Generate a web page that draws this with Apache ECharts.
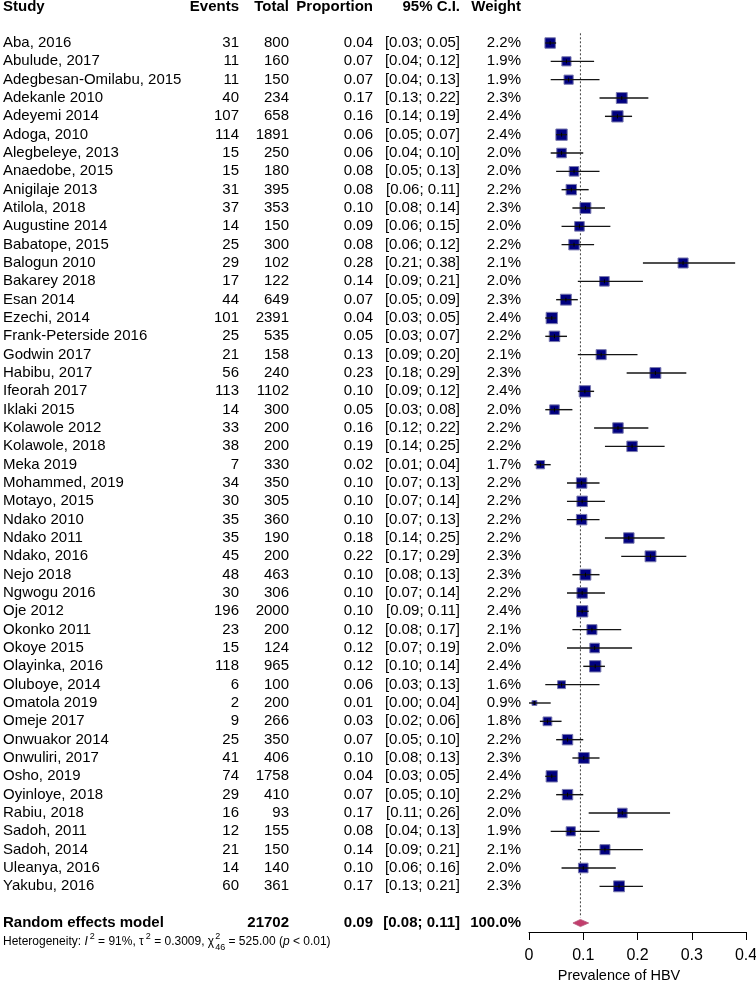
<!DOCTYPE html>
<html><head><meta charset="utf-8">
<script src="https://cdn.jsdelivr.net/npm/echarts@6/dist/echarts.min.js"></script>
<style>html,body{margin:0;padding:0;background:#fff}#c{width:756px;height:991px}</style>
</head><body><div id="c"></div>
<script>
const studies = ["Aba, 2016","Abulude, 2017","Adegbesan-Omilabu, 2015","Adekanle 2010","Adeyemi 2014","Adoga, 2010","Alegbeleye, 2013","Anaedobe, 2015","Anigilaje 2013","Atilola, 2018","Augustine 2014","Babatope, 2015","Balogun 2010","Bakarey 2018","Esan 2014","Ezechi, 2014","Frank-Peterside 2016","Godwin 2017","Habibu, 2017","Ifeorah 2017","Iklaki 2015","Kolawole 2012","Kolawole, 2018","Meka 2019","Mohammed, 2019","Motayo, 2015","Ndako 2010","Ndako 2011","Ndako, 2016","Nejo 2018","Ngwogu 2016","Oje 2012","Okonko 2011","Okoye 2015","Olayinka, 2016","Oluboye, 2014","Omatola 2019","Omeje 2017","Onwuakor 2014","Onwuliri, 2017","Osho, 2019","Oyinloye, 2018","Rabiu, 2018","Sadoh, 2011","Sadoh, 2014","Uleanya, 2016","Yakubu, 2016"];
const events = [31,11,11,40,107,114,15,15,31,37,14,25,29,17,44,101,25,21,56,113,14,33,38,7,34,30,35,35,45,48,30,196,23,15,118,6,2,9,25,41,74,29,16,12,21,14,60];
const totals = [800,160,150,234,658,1891,250,180,395,353,150,300,102,122,649,2391,535,158,240,1102,300,200,200,330,350,305,360,190,200,463,306,2000,200,124,965,100,200,266,350,406,1758,410,93,155,150,140,361];
const proportion = [0.039,0.069,0.073,0.171,0.163,0.060,0.060,0.083,0.078,0.104,0.093,0.083,0.284,0.139,0.068,0.042,0.047,0.133,0.233,0.103,0.047,0.164,0.190,0.021,0.097,0.098,0.097,0.184,0.224,0.104,0.098,0.098,0.116,0.121,0.122,0.060,0.010,0.034,0.071,0.101,0.042,0.071,0.172,0.077,0.140,0.100,0.166];
const ciLower = [0.03,0.04,0.04,0.13,0.14,0.05,0.04,0.05,0.06,0.08,0.06,0.06,0.21,0.09,0.05,0.03,0.03,0.09,0.18,0.09,0.03,0.12,0.14,0.01,0.07,0.07,0.07,0.14,0.17,0.08,0.07,0.09,0.08,0.07,0.10,0.03,0.00,0.02,0.05,0.08,0.03,0.05,0.11,0.04,0.09,0.06,0.13];
const ciUpper = [0.05,0.12,0.13,0.22,0.19,0.07,0.10,0.13,0.11,0.14,0.15,0.12,0.38,0.21,0.09,0.05,0.07,0.20,0.29,0.12,0.08,0.22,0.25,0.04,0.13,0.14,0.13,0.25,0.29,0.13,0.14,0.11,0.17,0.19,0.14,0.13,0.04,0.06,0.10,0.13,0.05,0.10,0.26,0.13,0.21,0.16,0.21];
const weights = [2.2,1.9,1.9,2.3,2.4,2.4,2.0,2.0,2.2,2.3,2.0,2.2,2.1,2.0,2.3,2.4,2.2,2.1,2.3,2.4,2.0,2.2,2.2,1.7,2.2,2.2,2.2,2.2,2.3,2.3,2.2,2.4,2.1,2.0,2.4,1.6,0.9,1.8,2.2,2.3,2.4,2.2,2.0,1.9,2.1,2.0,2.3];
const headers = ["Study","Events","Total","Proportion","95% C.I.","Weight"];
const pooledLabel = "Random effects model";
const pooledTotal = 21702;
const pooledEst = [0.0948];
const pooledLower = [0.081];
const pooledUpper = [0.110];
const pooledWeight = "100.0%";
const tickLabels = ["0","0.1","0.2","0.3","0.4"];
const axisTitle = "Prevalence of HBV";
const hetero = [
  {t:"Heterogeneity: ", k:"n"}, {t:"I", k:"i"}, {t:"2", k:"sup"}, {t:" = 91%, \u03c4", k:"n"}, {t:"2", k:"sup"},
  {t:" = 0.3009, \u03c7", k:"n"}, {t:["2","46"], k:"stack"}, {t:" = 525.00 (", k:"n"}, {t:"p", k:"i"}, {t:" < 0.01)", k:"n"}
];

const FONT = '"Liberation Sans", Arial, Helvetica, sans-serif';
const COL = {study:3, events:239, total:289, prop:373, ci:460, weight:521};
const HEADER_ROW = -1.95, POOLED_ROW = 48, HET_ROW = 49.0;

function txt(x, y, s, align, font) {
  return {type:'text', x:x, y:y, z2:10,
    style:{text:s, font: font || ('15px ' + FONT), fill:'#000', align:align, textAlign:align, verticalAlign:'middle', textVerticalAlign:'middle'}};
}
const ctx = document.createElement('canvas').getContext('2d');
function measure(s, font){ ctx.font = font; return ctx.measureText(s).width; }

const chart = echarts.init(document.getElementById('c'), null, {renderer:'canvas'});

function ciText(l, u){ return '[' + l.toFixed(2) + '; ' + u.toFixed(2) + ']'; }

chart.setOption({
  animation:false,
  backgroundColor:'#fff',
  grid:{left:529, right:10, top:43, bottom:68, containLabel:false, outerBoundsMode:'none'},
  xAxis:{type:'value', min:0, max:0.4, interval:0.1, position:'bottom', offset:9,
    axisLine:{show:true, onZero:false, lineStyle:{color:'#000', width:1}},
    axisTick:{show:true, length:8, inside:false, lineStyle:{color:'#000', width:1}},
    axisLabel:{fontSize:16, color:'#000', margin:16, fontFamily:FONT,
      formatter:function(v){ return tickLabels[Math.round(v*10)]; }},
    splitLine:{show:false}},
  yAxis:{type:'value', min:0, max:48, inverse:true, show:false},
  graphic:[{type:'text', x:619, y:976, style:{text:axisTitle, font:'14.5px ' + FONT, fill:'#000', align:'center', textAlign:'center', verticalAlign:'middle', textVerticalAlign:'middle'}}],
  series:[
    {type:'custom', name:'studies', clip:false,
     data: proportion.map(function(v,i){ return [v, i, i]; }),
     renderItem:function(params, api){
       const i = api.value(2);
       const p = api.coord([api.value(0), api.value(1)]);
       const y = p[1];
       const lo = api.coord([ciLower[i], i])[0];
       const hi = api.coord([ciUpper[i], i])[0];
       const s = 1 + 4.3 * weights[i];
       return {type:'group', children:[
         txt(COL.study, y, studies[i], 'left'),
         txt(COL.events, y, String(events[i]), 'right'),
         txt(COL.total, y, String(totals[i]), 'right'),
         txt(COL.prop, y, proportion[i].toFixed(2), 'right'),
         txt(COL.ci, y, ciText(ciLower[i], ciUpper[i]), 'right'),
         txt(COL.weight, y, weights[i].toFixed(1) + '%', 'right'),
         {type:'rect', z2:2, shape:{x:p[0]-s/2, y:y-s/2, width:s, height:s}, style:{fill:'#00007f', stroke:'#7878ae', lineWidth:1}},
         {type:'line', z2:3, shape:{x1:lo, y1:y, x2:hi, y2:y}, style:{stroke:'#141414', lineWidth:1.4}},
         {type:'line', z2:3, shape:{x1:p[0], y1:y-2, x2:p[0], y2:y+2}, style:{stroke:'#000', lineWidth:1}}
       ]};
     }},
    {type:'custom', name:'pooled', clip:false,
     data: pooledEst.map(function(v,i){ return [v, POOLED_ROW, i]; }),
     renderItem:function(params, api){
       const i = api.value(2);
       const c = api.coord([api.value(0), api.value(1)]);
       const y = c[1];
       const lo = api.coord([pooledLower[i], POOLED_ROW])[0];
       const hi = api.coord([pooledUpper[i], POOLED_ROW])[0];
       const top = api.coord([pooledEst[i], -0.53])[1];
       const bot = api.coord([pooledEst[i], POOLED_ROW - 0.3])[1];
       const hy = api.coord([0, HEADER_ROW])[1];
       const ey = api.coord([0, HET_ROW])[1];
       const bold = 'bold 15px ' + FONT;
       const ch = [
         {type:'line', z2:1, shape:{x1:c[0], y1:top, x2:c[0], y2:bot}, style:{stroke:'#444', lineWidth:1, lineDash:[2,2]}},
         {type:'polygon', z2:2, shape:{points:[[lo,y],[c[0],y-3.6],[hi,y],[c[0],y+3.6]]}, style:{fill:'#c23d6c', stroke:'#b4557a', lineWidth:0.8}},
         txt(COL.study, hy, headers[0], 'left', bold),
         txt(COL.events, hy, headers[1], 'right', bold),
         txt(COL.total, hy, headers[2], 'right', bold),
         txt(COL.prop, hy, headers[3], 'right', bold),
         txt(COL.ci, hy, headers[4], 'right', bold),
         txt(COL.weight, hy, headers[5], 'right', bold),
         txt(COL.study, y, pooledLabel, 'left', bold),
         txt(COL.total, y, String(pooledTotal), 'right', bold),
         txt(COL.prop, y, pooledEst[i].toFixed(2), 'right', bold),
         txt(COL.ci, y, ciText(pooledLower[i], pooledUpper[i]), 'right', bold),
         txt(COL.weight, y, pooledWeight, 'right', bold)
       ];
       const fN = '12px ' + FONT, fI = 'italic 12px ' + FONT, fS = '9px ' + FONT;
       let x = COL.study;
       hetero.forEach(function(h){
         if (h.k === 'n' || h.k === 'i') {
           const f = h.k === 'n' ? fN : fI;
           ch.push(txt(x, ey, h.t, 'left', f)); x += measure(h.t, f);
         } else if (h.k === 'sup') {
           ch.push(txt(x + 2, ey - 5, h.t, 'left', fS)); x += measure(h.t, fS) + 2;
         } else {
           ch.push(txt(x + 1, ey - 5, h.t[0], 'left', fS));
           ch.push(txt(x + 1, ey + 6, h.t[1], 'left', fS));
           x += Math.max(measure(h.t[0], fS), measure(h.t[1], fS)) + 1;
         }
       });
       return {type:'group', children:ch};
     }}
  ]
});
</script>
</body></html>
